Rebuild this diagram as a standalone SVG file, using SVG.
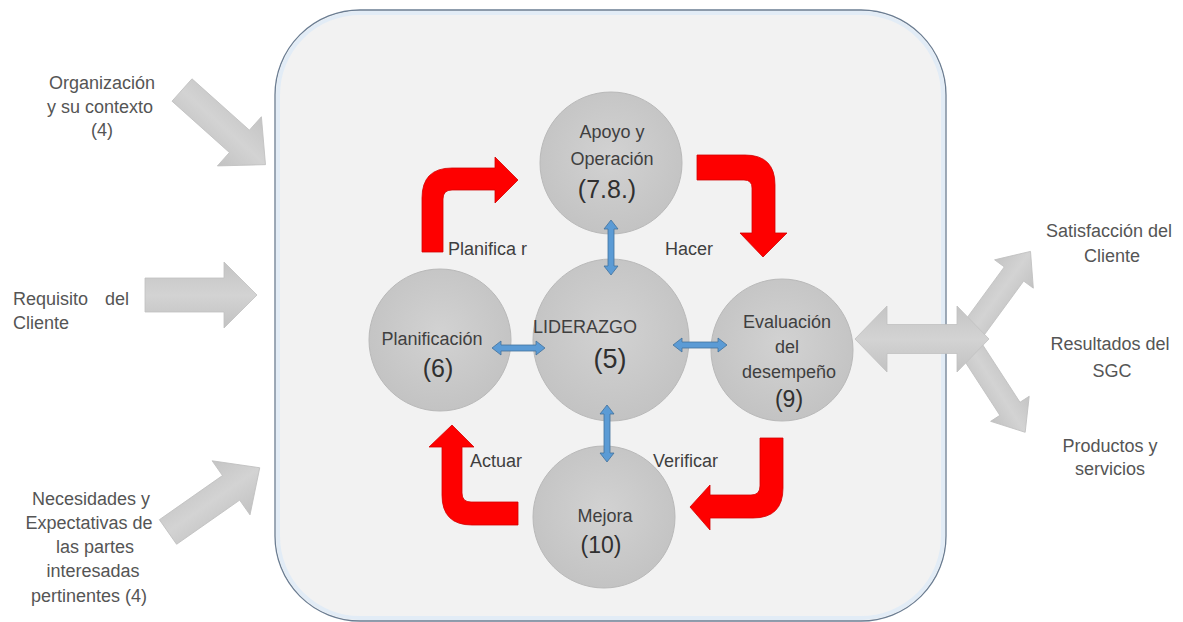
<svg xmlns="http://www.w3.org/2000/svg" width="1183" height="622" viewBox="0 0 1183 622">
<defs>
<radialGradient id="cg" cx="50%" cy="45%" r="55%">
<stop offset="0" stop-color="#d2d2d2"/>
<stop offset="1" stop-color="#c3c3c3"/>
</radialGradient>
<linearGradient id="ag" x1="0" y1="0" x2="0" y2="1">
<stop offset="0" stop-color="#c4c4c4"/>
<stop offset="0.5" stop-color="#d3d3d3"/>
<stop offset="1" stop-color="#c2c2c2"/>
</linearGradient>
<path id="garrow" d="M0,-15 L77,-15 L77,-33 L112,0 L77,33 L77,15 L0,15 Z"/>
</defs>
<style>
text{font-family:"Liberation Sans",Arial,sans-serif;}
.out{fill:#555555;font-size:18px;text-anchor:middle;}
.in{fill:#3f3f3f;font-size:18px;text-anchor:middle;}
.num{fill:#303030;text-anchor:middle;}
.lbl{fill:#3f3f3f;font-size:18px;}
.node{fill:url(#cg);stroke:#b9b9b9;stroke-width:1;}
.gray{fill:url(#ag);stroke:#c0c0c0;stroke-width:0.8;}
.red{fill:#fe0000;stroke:#d40000;stroke-width:0.8;}
.blue{fill:#5b9bd5;stroke:#41719c;stroke-width:0.8;}
</style>
<rect width="1183" height="622" fill="#ffffff"/>
<g id="frame">
<rect x="275" y="10" width="671" height="611" rx="85" ry="85" fill="#f2f2f2" stroke="#6b7d92" stroke-width="1.3"/>
<rect x="278" y="13" width="665" height="605" rx="82" ry="82" fill="none" stroke="#e2ecf6" stroke-width="4"/>
</g>
<g id="node-apoyo">
<circle class="node" cx="611" cy="163" r="71"/>
<text class="in" x="612" y="138">Apoyo y</text>
<text class="in" x="612" y="165">Operación</text>
<text class="num" x="607" y="198" font-size="25">(7.8.)</text>
</g>
<g id="node-liderazgo">
<ellipse class="node" cx="611" cy="340" rx="78" ry="81"/>
<text class="in" x="585" y="333" font-size="17.5">LIDERAZGO</text>
<text class="num" x="610" y="368" font-size="27">(5)</text>
</g>
<g id="node-planificacion">
<circle class="node" cx="440" cy="340" r="71"/>
<text class="in" x="432" y="345">Planificación</text>
<text class="num" x="438" y="377" font-size="25">(6)</text>
</g>
<g id="node-evaluacion">
<circle class="node" cx="782" cy="350" r="71"/>
<text class="in" x="787" y="328">Evaluación</text>
<text class="in" x="787" y="353">del</text>
<text class="in" x="789" y="378">desempeño</text>
<text class="num" x="789" y="407" font-size="23">(9)</text>
</g>
<g id="node-mejora">
<circle class="node" cx="604" cy="517" r="71"/>
<text class="in" x="605" y="522">Mejora</text>
<text class="num" x="601" y="553" font-size="23">(10)</text>
</g>
<g id="connectors">
<!-- inputs -->
<use href="#garrow" class="gray" transform="translate(182,90) rotate(41.8)"/>
<path class="gray" d="M145,278 L224,278 L224,262 L257,295 L224,328 L224,312 L145,312 Z"/>
<use href="#garrow" class="gray" transform="translate(168,532) rotate(-35)"/>
<!-- outputs -->
<path class="gray" d="M0,-12 L88,-12 L88,-24 L116,0 L88,24 L88,12 L0,12 Z" transform="translate(962,345) rotate(-53.8)"/>
<path class="gray" d="M0,-12 L88,-12 L88,-23 L116,0 L88,23 L88,12 L0,12 Z" transform="translate(962,335) rotate(57)"/>
<path class="gray" d="M855,339 L887,306 L887,324.5 L957,324.5 L957,306 L989,339 L957,372 L957,353.5 L887,353.5 L887,372 Z"/>
<!-- PDCA red arrows -->
<path class="red" d="M422,252 L422,198 Q422,168 452,168 L495,168 L495,157 L518,180 L495,203 L495,190 L452,190 Q443,190 443,199 L443,252 Z"/>
<path class="red" d="M697,155 L745,155 Q775,155 775,185 L775,233 L787,233 L763,257 L740,233 L752,233 L752,188 Q752,180 744,180 L697,180 Z"/>
<path class="red" d="M760,438 L783,438 L783,488 Q783,518 753,518 L710,518 L710,530 L690,507 L710,485 L710,495 L751,495 Q760,495 760,486 Z"/>
<path class="red" d="M518,502 L471,502 Q462,502 462,493 L462,447 L474,447 L452,425 L429,447 L442,447 L442,495 Q442,525 472,525 L518,525 Z"/>
<!-- blue double arrows -->
<path class="blue" d="M611,220 L618,229 L614,229 L614,266 L618,266 L611,275 L604,266 L608,266 L608,229 L604,229 Z"/>
<path class="blue" d="M492,348 L501,341 L501,345 L536,345 L536,341 L545,348 L536,355 L536,351 L501,351 L501,355 Z"/>
<path class="blue" d="M673,345 L682,338 L682,342 L718,342 L718,338 L727,345 L718,352 L718,348 L682,348 L682,352 Z"/>
<path class="blue" d="M607,405 L614,414 L610,414 L610,453 L614,453 L607,462 L600,453 L604,453 L604,414 L600,414 Z"/>
</g>
<g id="labels">
<text class="lbl" x="448" y="255">Planifica r</text>
<text class="lbl" x="665" y="255">Hacer</text>
<text class="lbl" x="470" y="467">Actuar</text>
<text class="lbl" x="653" y="467">Verificar</text>
</g>
<g id="node-organizacion">
<text class="out" x="102" y="89">Organización</text>
<text class="out" x="100" y="113">y su contexto</text>
<text class="out" x="102" y="136">(4)</text>
</g>
<g id="node-requisito">
<text class="out" x="13" y="305" style="text-anchor:start" word-spacing="12">Requisito del</text>
<text class="out" x="13" y="329" style="text-anchor:start">Cliente</text>
</g>
<g id="node-necesidades">
<text class="out" x="91" y="505">Necesidades y</text>
<text class="out" x="89" y="529">Expectativas de</text>
<text class="out" x="95" y="553">las partes</text>
<text class="out" x="93" y="577">interesadas</text>
<text class="out" x="89" y="602">pertinentes (4)</text>
</g>
<g id="node-satisfaccion">
<text class="out" x="1109" y="237">Satisfacción del</text>
<text class="out" x="1112" y="262">Cliente</text>
</g>
<g id="node-resultados">
<text class="out" x="1110" y="350">Resultados del</text>
<text class="out" x="1112" y="377">SGC</text>
</g>
<g id="node-productos">
<text class="out" x="1110" y="452">Productos y</text>
<text class="out" x="1110" y="475">servicios</text>
</g>
</svg>
